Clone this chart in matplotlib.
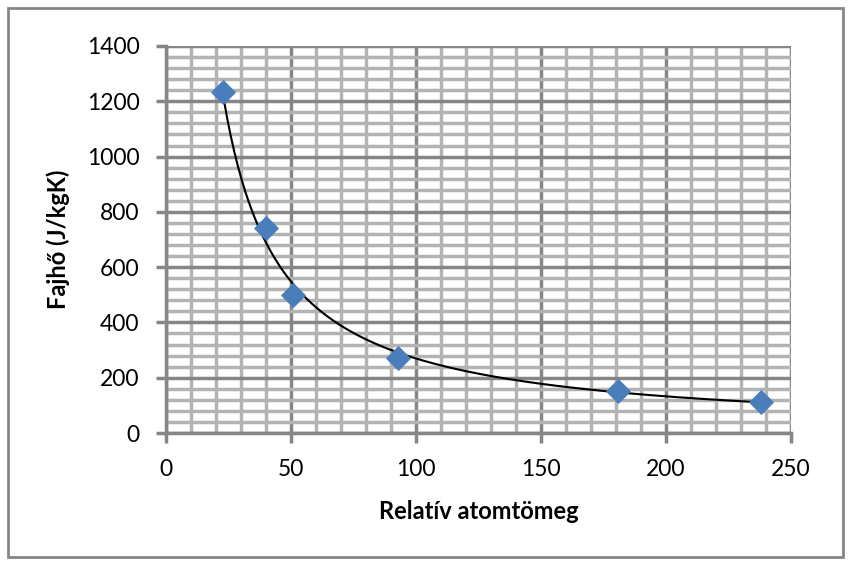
import numpy as np
import matplotlib.pyplot as plt
from matplotlib.patches import Rectangle
from matplotlib.ticker import MultipleLocator

# relative atomic mass vs specific heat
atomic_mass = [23, 40, 51, 93, 181, 238]
specific_heat = [1233, 740, 500, 271, 152, 113]

plt.rcParams['font.family'] = ['Lato', 'DejaVu Sans']

fig = plt.figure(figsize=(8.54, 5.72), dpi=100)
ax = fig.add_axes([166 / 854, 1 - 433 / 572, 625 / 854, 387 / 572])

# power trendline (Excel style)
b, log_a = np.polyfit(np.log(atomic_mass), np.log(specific_heat), 1)
xs = np.linspace(min(atomic_mass), max(atomic_mass), 300)
ax.plot(xs, np.exp(log_a) * xs ** b, color='black', lw=1.5, zorder=3)

ax.scatter(atomic_mass, specific_heat, marker='D', s=140, color='#4a7ebb',
           edgecolors='#4a7ebb', zorder=4)

ax.set_xlim(0, 250)
ax.set_ylim(0, 1400)
ax.xaxis.set_major_locator(MultipleLocator(50))
ax.xaxis.set_minor_locator(MultipleLocator(10))
ax.yaxis.set_major_locator(MultipleLocator(200))
ax.yaxis.set_minor_locator(MultipleLocator(40))

ax.grid(which='minor', color='#b3b3b3', lw=2.5, zorder=0)
ax.grid(which='major', color='#868686', lw=2.5, zorder=1)
ax.set_axisbelow(True)

for side in ['top', 'right']:
    ax.spines[side].set_visible(False)
for side in ['left', 'bottom']:
    ax.spines[side].set_color('#868686')
    ax.spines[side].set_linewidth(2.5)

ax.tick_params(which='major', direction='out', length=7, width=2.5,
               color='#868686', labelsize=16.5, pad=12)
ax.tick_params(which='minor', length=0)

ax.set_xlabel('Relatív atomtömeg', fontsize=17, fontweight='bold', labelpad=14)
ax.set_ylabel('Fajhő (J/kgK)', fontsize=17, fontweight='bold', labelpad=12)

fig.patches.append(Rectangle((8 / 854, 1 - 557 / 572), 835 / 854, 549 / 572,
                             transform=fig.transFigure, fill=False,
                             edgecolor='#868686', lw=2))

fig.savefig('out.png', dpi=100)
